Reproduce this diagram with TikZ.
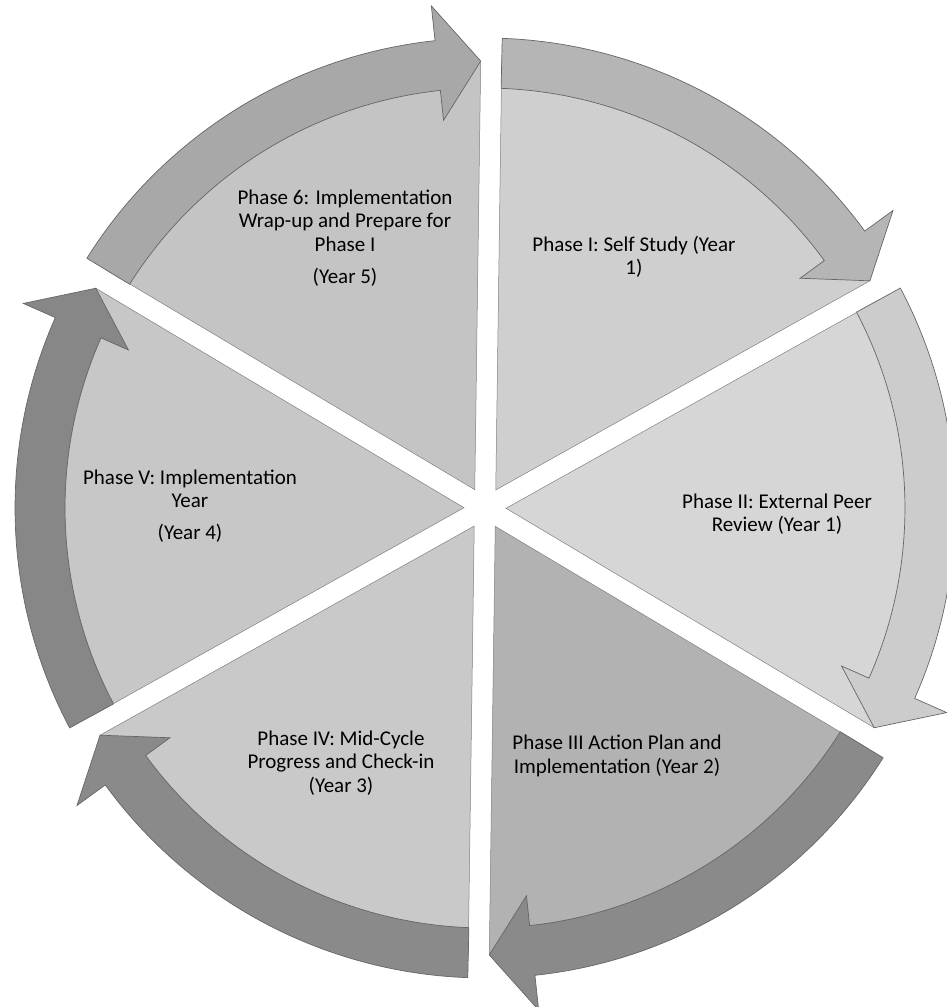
\documentclass[tikz,border=0pt]{standalone}
\usepackage{fontspec}
\setmainfont{Carlito}

\begin{document}
\begin{tikzpicture}[
      font=\fontsize{21}{23.5}\selectfont,
      sector/.style={draw=black!50, line width=0.5pt},
      band/.style={draw=black!60, line width=0.7pt},
      lbl/.style={align=center, text=black, inner sep=1pt},
    ]
    \useasboundingbox (-485pt,-499pt) rectangle (462pt,508pt);
    % --- six sectors, each with its clockwise arrow on the rim ---
    \begin{scope}[rotate=-0.8]
      \foreach \a/\sc/\bc in {30/black!19/black!29, -30/black!16/black!20,
          -90/black!30/black!46, -150/black!21/black!46,
          150/black!22/black!47, 90/black!23/black!34}{
        \pgfmathsetmacro{\b}{\a+60}
        \draw[sector, fill=\sc] (\a+30:21pt) -- (\a+1.35:447pt)
          arc[start angle=\a+1.35, end angle=\b-1.35, radius=447pt] -- cycle;
        \draw[band, fill=\bc] (\b-1.3:470pt)
          arc[start angle=\b-1.3, end angle=\a+6.9, radius=470pt]
          -- (\a+6.9:505pt) -- (\a+1.35:447pt) -- (\a+6.9:390pt) -- (\a+6.9:420pt)
          arc[start angle=\a+6.9, end angle=\b-1.4, radius=420pt] -- cycle;
      }
    \end{scope}

    % --- phase labels ---
    \node[lbl] (p6) at (-140pt,270pt) {Phase 6: Implementation\\Wrap-up and Prepare for\\Phase I\\[9pt](Year 5)};
    \node[lbl] (p1) at (149pt,251pt) {Phase I: Self Study (Year\\1)};
    \node[lbl] (p2) at (292pt,-6pt) {Phase II: External Peer\\Review (Year 1)};
    \node[lbl] (p3) at (132pt,-248pt) {Phase III Action Plan and\\Implementation (Year 2)};
    \node[lbl] (p4) at (-144pt,-255pt) {Phase IV: Mid-Cycle\\Progress and Check-in\\(Year 3)};
    \node[lbl] (p5) at (-295pt,2pt) {Phase V: Implementation\\Year\\[8pt](Year 4)};
  \end{tikzpicture}
\end{document}
